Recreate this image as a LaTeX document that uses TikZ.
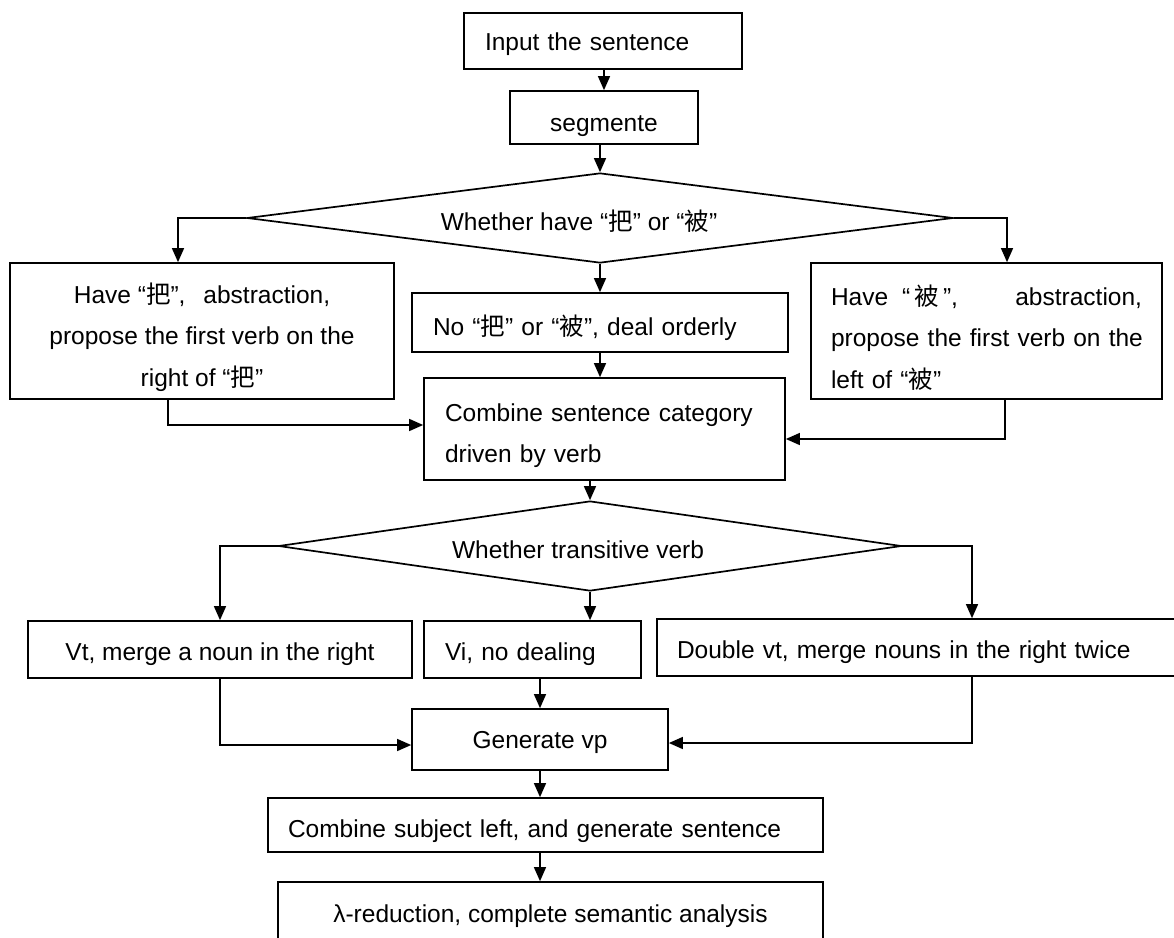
\documentclass[tikz,border=0pt]{standalone}
\usepackage{fontspec}
\setmainfont{Liberation Sans}
\newfontfamily\cjk{Noto Sans CJK SC}
\usetikzlibrary{arrows.meta,shapes.geometric}
\newcommand{\zhba}{{\cjk 把}}
\newcommand{\zhbei}{{\cjk 被}}
\tikzset{
  txt/.style={font=\fontsize{24.5}{41.5}\selectfont},
  box/.style={draw, line width=1.7pt, rectangle, inner sep=0pt, txt},
  lbox/.style={box, align=left},
  cbox/.style={box, align=center},
  one/.style={text height=#1, text depth=0pt},
  dia/.style={draw, line width=1.7pt, diamond, inner sep=0pt, txt, text height=24pt, text depth=0pt},
  arr/.style={line width=1.4pt, -{Triangle[length=14pt,width=12pt]}}
}
\begin{document}
\begin{tikzpicture}[x=1pt,y=-1pt]
\useasboundingbox (0,0) rectangle (1174,937);
\clip (0,0) rectangle (1174,937);
% nodes
\node[lbox, one=18pt, minimum width=278pt, minimum height=56pt, text width=236pt] (in) at (603,41) {Input the sentence};
\node[cbox, one=28pt, minimum width=188pt, minimum height=53pt] (seg) at (604,117.5) {segmente};
\node[dia, minimum width=706pt, minimum height=90pt, aspect=7.8] (d1) at (600,218) {Whether have “\zhba” or “\zhbei”\hspace*{42pt}};
\node[cbox, minimum width=384pt, minimum height=136pt] (L) at (202,331) {\rule{0pt}{33pt}Have “\zhba”,\hspace{18pt}abstraction,\\ propose the first verb on the\\ right of “\zhba”};
\node[lbox, one=25pt, minimum width=376pt, minimum height=59pt, text width=334pt] (N) at (600,322.5) {No “\zhba” or “\zhbei”, deal orderly};
\node[lbox, minimum width=351pt, minimum height=136pt, text width=311pt] (R) at (986.5,331) {\rule{0pt}{33pt}\makebox[311pt][s]{Have\hspace{14pt}“\,\zhbei\,”,\hfill abstraction,}\\ \makebox[311pt][l]{propose the first verb on the}\\ left of “\zhbei”};
\node[lbox, minimum width=361pt, minimum height=102pt, text width=319pt] (C) at (604.5,429) {\rule{0pt}{31pt}\makebox[319pt][s]{Combine sentence category}\\ driven by verb};
\node[dia, minimum width=623pt, minimum height=90pt, aspect=6.9] (d2) at (590,546) {Whether transitive verb\hspace*{24pt}};
\node[cbox, one=21pt, minimum width=384pt, minimum height=57pt] (Vt) at (220,649.5) {Vt, merge a noun in the right};
\node[lbox, one=21pt, minimum width=217pt, minimum height=57pt, text width=175pt] (Vi) at (532.5,649.5) {Vi, no dealing};
\node[lbox, one=21pt, minimum width=533pt, minimum height=57pt, text width=493pt] (Db) at (923.5,647.5) {Double vt, merge nouns in the right twice};
\node[cbox, one=17pt, minimum width=256pt, minimum height=61pt] (G) at (540,739.5) {Generate vp};
\node[lbox, one=24pt, minimum width=555pt, minimum height=54pt, text width=515pt] (CS) at (545.5,825) {Combine subject left, and generate sentence};
\node[cbox, one=14pt, minimum width=545pt, minimum height=66pt] (Lam) at (550.5,915) {λ-reduction, complete semantic analysis};
% connectors
\draw[arr] (in.south -| seg.north) -- (seg.north);
\draw[arr] (seg.south -| d1.north) -- (d1.north);
\draw[arr] (d1.west) -| ([xshift=-24pt]L.north);
\draw[arr] (d1.east) -| ([xshift=20.5pt]R.north);
\draw[arr] (d1.south) -- (d1.south |- N.north);
\draw[arr] (N.south) -- (N.south |- C.north);
\draw[arr] ([xshift=-34pt]L.south) |- ([yshift=4pt]C.west);
\draw[arr] ([xshift=18.5pt]R.south) |- ([yshift=-10pt]C.east);
\draw[arr] (C.south -| d2.north) -- (d2.north);
\draw[arr] (d2.west) -| (Vt.north);
\draw[arr] (d2.east) -| ([xshift=48.5pt]Db.north);
\draw[arr] (d2.south) -- (d2.south |- Vi.north);
\draw[arr] (Vi.south -| G.north) -- (G.north);
\draw[arr] (Vt.south) |- ([yshift=-5.5pt]G.west);
\draw[arr] ([xshift=48.5pt]Db.south) |- ([yshift=-3.5pt]G.east);
\draw[arr] (G.south) -- (G.south |- CS.north);
\draw[arr] (G.south |- CS.south) -- (G.south |- Lam.north);
\end{tikzpicture}
\end{document}
